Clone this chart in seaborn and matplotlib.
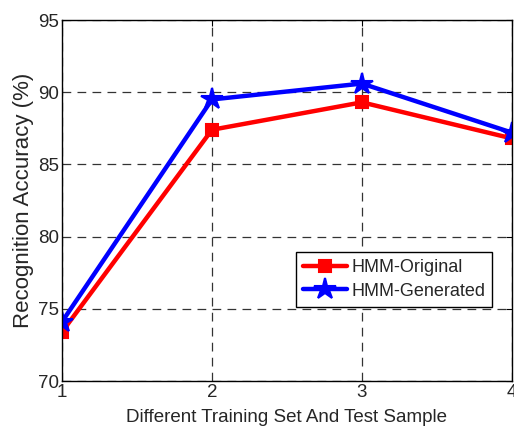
import matplotlib
matplotlib.use("Agg")
import matplotlib.pyplot as plt
import seaborn as sns
import pandas as pd

# data
samples = [1, 2, 3, 4]
hmm_original = [73.4, 87.4, 89.3, 86.8]
hmm_generated = [74.1, 89.5, 90.6, 87.2]

sns.set_style("white")
plt.rcParams["font.family"] = ["Liberation Sans", "DejaVu Sans"]

df = pd.DataFrame({
    "sample": samples * 2,
    "acc": hmm_original + hmm_generated,
    "method": ["HMM-Original"] * 4 + ["HMM-Generated"] * 4,
})

fig = plt.figure(figsize=(5.14, 4.26), dpi=100)
ax = fig.add_axes([0.1206, 0.1056, 0.8754, 0.8474])

sns.lineplot(data=df, x="sample", y="acc", hue="method", style="method",
             palette={"HMM-Original": "#ff0000", "HMM-Generated": "#0000ff"},
             markers={"HMM-Original": "s", "HMM-Generated": "*"},
             dashes=False, linewidth=3.2, ax=ax,
             markersize=9, markeredgewidth=1.5)


def fix_markers(lines):
    for line in lines:
        line.set_markeredgecolor(line.get_color())
        if line.get_marker() == "*":
            line.set_markersize(16)


fix_markers(ax.lines)

ax.set_xlim(1, 4)
ax.set_ylim(70, 95)
ax.set_xticks(samples)
ax.set_yticks([70, 75, 80, 85, 90, 95])
ax.tick_params(direction="in", labelsize=13.5, length=4, color="black", pad=2,
               top=True, right=True)
ax.grid(True, color="#333333", linestyle=(0, (7, 5)), linewidth=0.9)
for s in ax.spines.values():
    s.set_color("black")
    s.set_linewidth(1.0)

ax.set_xlabel("Different Training Set And Test Sample", fontsize=13.5, labelpad=6)
ax.set_ylabel("Recognition Accuracy (%)", fontsize=16, labelpad=3)

handles, labels = ax.get_legend_handles_labels()
fix_markers(handles)
ax.legend(handles, labels, loc="upper left", bbox_to_anchor=(0.52, 0.357),
          fontsize=13, frameon=True, fancybox=False, edgecolor="black",
          framealpha=1, handlelength=2.4, borderpad=0.4, labelspacing=0.35,
          handletextpad=0.25, borderaxespad=0)

fig.savefig("out.png", dpi=100)
